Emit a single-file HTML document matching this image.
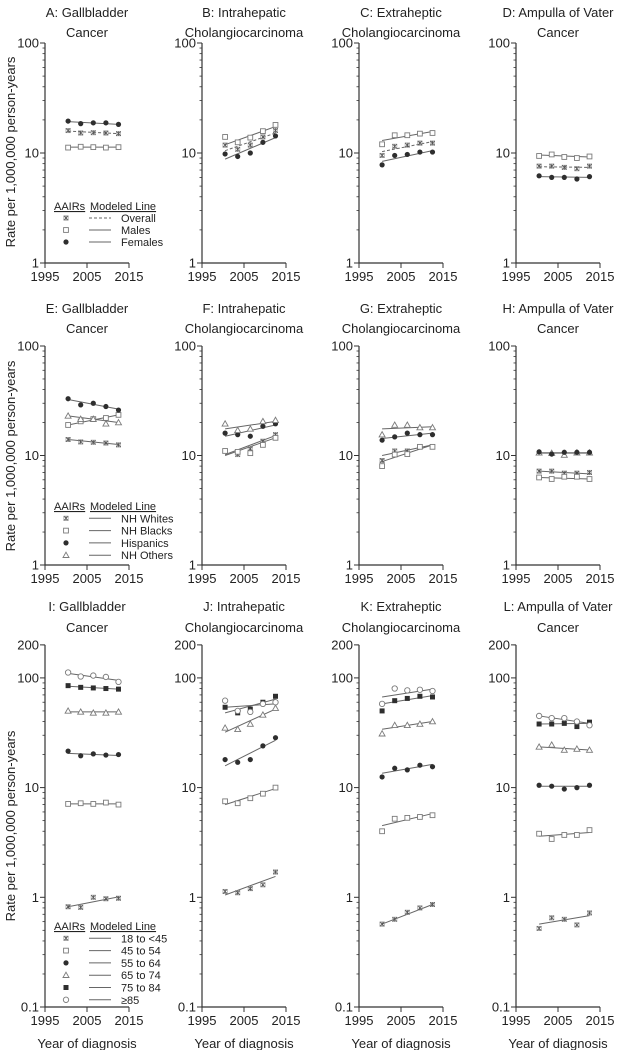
<!DOCTYPE html>
<html><head><meta charset="utf-8"><style>
html,body{margin:0;padding:0;background:#fff;}
svg{display:block;font-family:"Liberation Sans",Arial,sans-serif;}
</style></head><body>
<svg id="fig" width="617" height="1050" viewBox="0 0 617 1050" xmlns="http://www.w3.org/2000/svg"></svg>
<script>
// ---- data ----
const years = [2000.5, 2003.5, 2006.5, 2009.5, 2012.5];
const fitYears = [2000.5, 2012.5];
const xTicks = [1995, 2005, 2015];
const ticksRow12 = [1, 10, 100];
const ticksRow3 = [0.1, 1, 10, 100, 200];
// Row 1 (sex)
const A_overall=[16,15.2,15.3,15.2,15], A_overall_fit=[15.8,15.0];
const A_males=[11.2,11.4,11.3,11.2,11.3], A_males_fit=[11.3,11.3];
const A_females=[19.5,18.5,18.8,18.8,18.2], A_females_fit=[19.3,18.2];
const B_overall=[11.8,10.8,11.8,14,16], B_overall_fit=[10.5,15.2];
const B_males=[14,12.5,13.8,15.8,18], B_males_fit=[11.9,17.4];
const B_females=[9.8,9.3,10,12.5,14.3], B_females_fit=[8.8,13.8];
const C_overall=[9.5,11.5,11.8,12.3,12.3], C_overall_fit=[10.3,12.7];
const C_males=[12,14.5,14.5,15,15.2], C_males_fit=[13,15.7];
const C_females=[7.8,9.5,9.7,10.2,10.2], C_females_fit=[8.4,10.5];
const D_overall=[7.6,7.6,7.4,7.2,7.6], D_overall_fit=[7.5,7.4];
const D_males=[9.4,9.7,9.2,9,9.3], D_males_fit=[9.6,9.2];
const D_females=[6.2,6,6,5.8,6.1], D_females_fit=[6.1,6.0];
// Row 2 (race/ethnicity)
const E_whites=[14,13.3,13.2,13,12.5], E_whites_fit=[14,12.6];
const E_blacks=[19,20.5,21.5,22,23.5], E_blacks_fit=[19,23.5];
const E_hisp=[33,29,30,28,26], E_hisp_fit=[32.5,26.5];
const E_others=[23,21.5,21.5,19.5,20], E_others_fit=[23,20];
const F_whites=[11,10.2,11.5,13.5,15.5], F_whites_fit=[10.2,15.2];
const F_blacks=[11,10.8,10.5,12.5,14.5], F_blacks_fit=[10,14.5];
const F_hisp=[16,15.5,15,18.5,19.5], F_hisp_fit=[15,19];
const F_others=[19.5,17,17.5,20.5,21], F_others_fit=[17.5,20.5];
const G_whites=[9,11,11,12,12], G_whites_fit=[10,12.5];
const G_blacks=[8,10.2,10.3,12,12], G_blacks_fit=[8.8,12.5];
const G_hisp=[13.8,14.8,16,15.5,15.5], G_hisp_fit=[14.3,16];
const G_others=[15.5,19,19,18,18], G_others_fit=[17.5,18.3];
const H_whites=[7.2,7.2,6.9,6.9,7], H_whites_fit=[7.2,6.8];
const H_blacks=[6.3,6.1,6.4,6.4,6.1], H_blacks_fit=[6.3,6.1];
const H_hisp=[10.8,10.3,10.7,10.7,10.7], H_hisp_fit=[10.6,10.6];
const H_others=[10.6,10.5,10.1,10.6,10.6], H_others_fit=[10.5,10.5];
// Row 3 (age)
const I_a18=[0.82,0.81,1.0,0.97,0.98], I_a18_fit=[0.82,1.01];
const I_a45=[7.1,7.2,7.1,7.3,7], I_a45_fit=[7.1,7.1];
const I_a55=[21.5,19.5,20.3,19.8,20], I_a55_fit=[20.5,19.6];
const I_a65=[50,49,48,48,49], I_a65_fit=[49,49];
const I_a75=[85,82,81,80,79], I_a75_fit=[84,79];
const I_a85=[112,103,105,102,92], I_a85_fit=[110,95];
const J_a18=[1.13,1.1,1.2,1.3,1.7], J_a18_fit=[1.05,1.55];
const J_a45=[7.5,7.2,8,8.8,10], J_a45_fit=[7,9.8];
const J_a55=[18,17,18,24,28.5], J_a55_fit=[15.8,27];
const J_a65=[35,34,38,46,53], J_a65_fit=[32,52];
const J_a75=[54,48,52,60,68], J_a75_fit=[54,58];
const J_a85=[62,50,49,58,60], J_a85_fit=[48,64];
const K_a18=[0.57,0.63,0.73,0.8,0.86], K_a18_fit=[0.57,0.86];
const K_a45=[4,5.2,5.3,5.4,5.6], K_a45_fit=[4.5,5.8];
const K_a55=[12.5,15,14.5,16,15.5], K_a55_fit=[13.5,16.3];
const K_a65=[31,37,37,38,40], K_a65_fit=[34,40];
const K_a75=[50,62,65,68,67], K_a75_fit=[58,69];
const K_a85=[58,80,77,78,76], K_a85_fit=[67,79];
const L_a18=[0.52,0.65,0.63,0.56,0.72], L_a18_fit=[0.57,0.68];
const L_a45=[3.8,3.4,3.7,3.7,4.1], L_a45_fit=[3.6,3.9];
const L_a55=[10.5,10.3,9.7,10,10.5], L_a55_fit=[10.3,10.3];
const L_a65=[23.5,24.5,22,22.5,22], L_a65_fit=[23.5,22];
const L_a75=[38,38,38.5,36,39.5], L_a75_fit=[38,38.5];
const L_a85=[45,43,43,40,37], L_a85_fit=[45,38.5];

// ---- drawing ----
const NS='http://www.w3.org/2000/svg';
const svg=document.getElementById('fig');
function el(tag, attrs, parent){const e=document.createElementNS(NS,tag);for(const k in attrs)e.setAttribute(k,attrs[k]);(parent||svg).appendChild(e);return e;}
const AX='#333', GR='#7a7a7a', DK='#2e2e2e', LN='#666';

function marker(g,type,x,y){
  let m;
  if(type==='ast'){
    m=el('g',{},g);
    el('rect',{x:x-2.2,y:y-2.2,width:4.4,height:4.4,fill:'none',stroke:'#999','stroke-width':0.6},m);
    el('path',{d:`M${x-2.2},${y-2.2}L${x+2.2},${y+2.2}M${x+2.2},${y-2.2}L${x-2.2},${y+2.2}M${x},${y-2.2}L${x},${y+2.2}`,stroke:'#555','stroke-width':0.8},m);
  }else if(type==='sq'){m=el('rect',{x:x-2.4,y:y-2.4,width:4.8,height:4.8,fill:'#fff',stroke:GR,'stroke-width':0.9},g);}
  else if(type==='dot'){m=el('circle',{cx:x,cy:y,r:2.6,fill:DK},g);}
  else if(type==='tri'){m=el('path',{d:`M${x},${y-3}L${x+3},${y+2.3}L${x-3},${y+2.3}Z`,fill:'#fff',stroke:GR,'stroke-width':0.9},g);}
  else if(type==='fsq'){m=el('rect',{x:x-2.5,y:y-2.5,width:5,height:5,fill:DK},g);}
  else {m=el('circle',{cx:x,cy:y,r:2.7,fill:'#fff',stroke:GR,'stroke-width':0.9},g);}
  return m;
}

const colX=[45,202,359,516];
const rows=[
 {vTop:100,vBot:1,yBot:263,dec:110,ticks:ticksRow12,titleY:[17,37],label:'Rate per 1,000,000 person-years',xLabY:281},
 {vTop:100,vBot:1,yBot:565,dec:109.5,ticks:ticksRow12,titleY:[313,333],label:'Rate per 1,000,000 person-years',xLabY:583},
 {vTop:200,vBot:0.1,yBot:1007,dec:109.7,ticks:ticksRow3,titleY:[611,632],label:'Rate per 1,000,000 person-years',xLabY:1025},
];
const panels=[
 {id:'A',row:0,col:0,t:['A: Gallbladder','Cancer'],s:[[A_overall,A_overall_fit,'ast',1,'overall'],[A_males,A_males_fit,'sq',0,'males'],[A_females,A_females_fit,'dot',0,'females']]},
 {id:'B',row:0,col:1,t:['B: Intrahepatic','Cholangiocarcinoma'],s:[[B_overall,B_overall_fit,'ast',1,'overall'],[B_males,B_males_fit,'sq',0,'males'],[B_females,B_females_fit,'dot',0,'females']]},
 {id:'C',row:0,col:2,t:['C: Extraheptic','Cholangiocarcinoma'],s:[[C_overall,C_overall_fit,'ast',1,'overall'],[C_males,C_males_fit,'sq',0,'males'],[C_females,C_females_fit,'dot',0,'females']]},
 {id:'D',row:0,col:3,t:['D: Ampulla of Vater','Cancer'],s:[[D_overall,D_overall_fit,'ast',1,'overall'],[D_males,D_males_fit,'sq',0,'males'],[D_females,D_females_fit,'dot',0,'females']]},
 {id:'E',row:1,col:0,t:['E: Gallbladder','Cancer'],s:[[E_whites,E_whites_fit,'ast',0,'nh-whites'],[E_blacks,E_blacks_fit,'sq',0,'nh-blacks'],[E_hisp,E_hisp_fit,'dot',0,'hispanics'],[E_others,E_others_fit,'tri',0,'nh-others']]},
 {id:'F',row:1,col:1,t:['F: Intrahepatic','Cholangiocarcinoma'],s:[[F_whites,F_whites_fit,'ast',0,'nh-whites'],[F_blacks,F_blacks_fit,'sq',0,'nh-blacks'],[F_hisp,F_hisp_fit,'dot',0,'hispanics'],[F_others,F_others_fit,'tri',0,'nh-others']]},
 {id:'G',row:1,col:2,t:['G: Extraheptic','Cholangiocarcinoma'],s:[[G_whites,G_whites_fit,'ast',0,'nh-whites'],[G_blacks,G_blacks_fit,'sq',0,'nh-blacks'],[G_hisp,G_hisp_fit,'dot',0,'hispanics'],[G_others,G_others_fit,'tri',0,'nh-others']]},
 {id:'H',row:1,col:3,t:['H: Ampulla of Vater','Cancer'],s:[[H_whites,H_whites_fit,'ast',0,'nh-whites'],[H_blacks,H_blacks_fit,'sq',0,'nh-blacks'],[H_others,H_others_fit,'tri',0,'nh-others'],[H_hisp,H_hisp_fit,'dot',0,'hispanics']]},
 {id:'I',row:2,col:0,t:['I: Gallbladder','Cancer'],s:[[I_a18,I_a18_fit,'ast',0,'age-18-45'],[I_a45,I_a45_fit,'sq',0,'age-45-54'],[I_a55,I_a55_fit,'dot',0,'age-55-64'],[I_a65,I_a65_fit,'tri',0,'age-65-74'],[I_a75,I_a75_fit,'fsq',0,'age-75-84'],[I_a85,I_a85_fit,'circ',0,'age-85-plus']]},
 {id:'J',row:2,col:1,t:['J: Intrahepatic','Cholangiocarcinoma'],s:[[J_a18,J_a18_fit,'ast',0,'age-18-45'],[J_a45,J_a45_fit,'sq',0,'age-45-54'],[J_a55,J_a55_fit,'dot',0,'age-55-64'],[J_a65,J_a65_fit,'tri',0,'age-65-74'],[J_a75,J_a75_fit,'fsq',0,'age-75-84'],[J_a85,J_a85_fit,'circ',0,'age-85-plus']]},
 {id:'K',row:2,col:2,t:['K: Extraheptic','Cholangiocarcinoma'],s:[[K_a18,K_a18_fit,'ast',0,'age-18-45'],[K_a45,K_a45_fit,'sq',0,'age-45-54'],[K_a55,K_a55_fit,'dot',0,'age-55-64'],[K_a65,K_a65_fit,'tri',0,'age-65-74'],[K_a75,K_a75_fit,'fsq',0,'age-75-84'],[K_a85,K_a85_fit,'circ',0,'age-85-plus']]},
 {id:'L',row:2,col:3,t:['L: Ampulla of Vater','Cancer'],s:[[L_a18,L_a18_fit,'ast',0,'age-18-45'],[L_a45,L_a45_fit,'sq',0,'age-45-54'],[L_a55,L_a55_fit,'dot',0,'age-55-64'],[L_a65,L_a65_fit,'tri',0,'age-65-74'],[L_a75,L_a75_fit,'fsq',0,'age-75-84'],[L_a85,L_a85_fit,'circ',0,'age-85-plus']]},
];

panels.forEach(p=>{
  const R=rows[p.row], ax=colX[p.col];
  const xs=yr=>ax+(yr-1995)*4.2;
  const ys=v=>R.yBot-R.dec*(Math.log10(v)-Math.log10(R.vBot));
  const g=el('g',{});
  
  
  // title
  p.t.forEach((line,i)=>{
    const t=el('text',{x:ax+42,y:R.titleY[i],'text-anchor':'middle','font-size':13,fill:'#222'},g);
    t.textContent=line;
    
    
  });
  // axes
  const yTop=ys(R.vTop);
  const axis=el('path',{d:`M${ax},${yTop}L${ax},${R.yBot}L${ax+84},${R.yBot}`,fill:'none',stroke:AX,'stroke-width':1.2},g);
  
  
  // minor ticks
  const lo=Math.floor(Math.log10(R.vBot)), hi=Math.ceil(Math.log10(R.vTop));
  for(let d=lo; d<hi; d++){
    for(let m=2;m<=9;m++){
      const v=m*Math.pow(10,d);
      if(v>R.vTop+1e-9) continue;
      el('line',{x1:ax-2.5,x2:ax,y1:ys(v),y2:ys(v),stroke:AX,'stroke-width':0.8},g);
    }
  }
  R.ticks.forEach(v=>{
    el('line',{x1:ax-5,x2:ax,y1:ys(v),y2:ys(v),stroke:AX,'stroke-width':1},g);
    const t=el('text',{x:ax-6,y:ys(v)+4.5,'text-anchor':'end','font-size':13,fill:'#222'},g);
    t.textContent=String(v);
    
    
  });
  xTicks.forEach(yv=>{
    el('line',{x1:xs(yv),x2:xs(yv),y1:R.yBot,y2:R.yBot+5,stroke:AX,'stroke-width':1},g);
    const t=el('text',{x:xs(yv),y:R.xLabY,'text-anchor':'middle','font-size':13,fill:'#222'},g);
    t.textContent=String(yv);
    
    
  });
  if(p.row===2){
    const t=el('text',{x:ax+42,y:1048,'text-anchor':'middle','font-size':13,fill:'#222'},g);
    t.textContent='Year of diagnosis';
    
    
  }
  // series
  p.s.forEach(([vals,fit,mk,dash,nm])=>{
    const ln=el('line',{x1:xs(fitYears[0]),y1:ys(fit[0]),x2:xs(fitYears[1]),y2:ys(fit[1]),stroke:LN,'stroke-width':1,'stroke-dasharray':dash?'3,2':'none'},g);
    
    
  });
  p.s.forEach(([vals,fit,mk,dash,nm])=>{
    vals.forEach((v,i)=>{
      const m=marker(g,mk,xs(years[i]),ys(v));
      
      
    });
  });
});

// y-axis titles
rows.forEach((R,i)=>{
  const cy=[152,456,826][i];
  const t=el('text',{x:0,y:0,transform:`translate(15,${cy}) rotate(-90)`,'text-anchor':'middle','font-size':13,fill:'#222'});
  t.textContent=R.label;
  
  
});

// legends
function legend(headerY, step, items, dashes){
  const g=el('g',{});
  
  
  const h1=el('text',{x:54,y:headerY+4,'font-size':11,fill:'#222','text-decoration':'underline'},g); h1.textContent='AAIRs';
  const h2=el('text',{x:90,y:headerY+4,'font-size':11,fill:'#222','text-decoration':'underline'},g); h2.textContent='Modeled Line';
  items.forEach(([mk,label],i)=>{
    const y=headerY+step*(i+1);
    const e=el('g',{},g);
    
    
    marker(e,mk,66,y);
    el('line',{x1:89,x2:111,y1:y,y2:y,stroke:LN,'stroke-width':1,'stroke-dasharray':(dashes&&dashes[i])?'3,2':'none'},e);
    const t=el('text',{x:121,y:y+4,'font-size':11,fill:'#222'},e); t.textContent=label;
  });
}
legend(206,12,[['ast','Overall'],['sq','Males'],['dot','Females']],[1,0,0]);
legend(506,12.3,[['ast','NH Whites'],['sq','NH Blacks'],['dot','Hispanics'],['tri','NH Others']]);
legend(926,12.3,[['ast','18 to <45'],['sq','45 to 54'],['dot','55 to 64'],['tri','65 to 74'],['fsq','75 to 84'],['circ','≥85']]);
</script>
</body></html>
